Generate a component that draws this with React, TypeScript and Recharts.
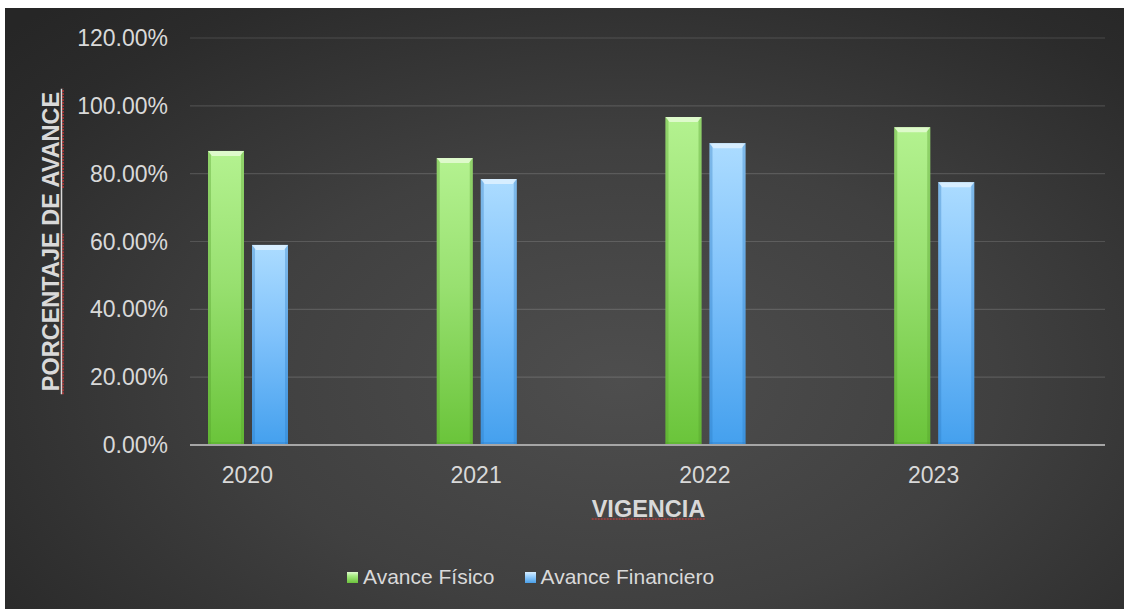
import React from 'react';
import { BarChart, Bar, XAxis, YAxis, CartesianGrid, Legend } from 'recharts';

const years = ['2020', '2021', '2022', '2023'];
const avanceFisico = [86.7, 84.6, 96.7, 93.7];
const avanceFinanciero = [59.0, 78.4, 89.0, 77.5];
const spacerValues = [0, 0, 0, 0];
const yTicks = [0, 20, 40, 60, 80, 100, 120];
const seriesOrder = ['fisico', 'financiero'];
const seriesNames = { fisico: 'Avance Físico', financiero: 'Avance Financiero' };

const data = years.map((year, i) => ({
  year,
  fisico: avanceFisico[i],
  financiero: avanceFinanciero[i],
  spacer: spacerValues[i],
}));

const TEXT = '#d9d9d9';
const FONT = '"Liberation Sans", Arial, Helvetica, sans-serif';

const GlossBar = (props: any) => {
  const { x, y, width, height, fill, light, dark } = props;
  if (!height || height <= 0) return null;
  const b = Math.min(5, height / 2);
  return (
    <g>
      <rect x={x} y={y} width={width} height={height} fill={fill} />
      <rect x={x} y={y} width={3} height={height} fill={dark} opacity={0.35} />
      <rect x={x + width - 3} y={y} width={3} height={height} fill={dark} opacity={0.35} />
      <polygon
        points={`${x},${y} ${x + width},${y} ${x + width - 4},${y + b} ${x + 4},${y + b}`}
        fill={light}
        opacity={0.9}
      />
      <rect x={x} y={y + height - 3} width={width} height={3} fill={dark} opacity={0.3} />
    </g>
  );
};

const GreenBar = (p: any) => <GlossBar {...p} light="#e2fbd2" dark="#4f9a28" />;
const BlueBar = (p: any) => <GlossBar {...p} light="#dcf0ff" dark="#2a78c0" />;

const YearTick = (props: any) => {
  const { x, y, payload } = props;
  return (
    <text x={x - 57} y={y} dy="0.71em" textAnchor="middle" fill={TEXT} fontSize={23} fontFamily={FONT}>
      {payload.value}
    </text>
  );
};

const YTitle = (props: any) => {
  const vb = props.viewBox || { x: 70, y: 38, width: 120, height: 407 };
  const cx = vb.x - 11;
  const cy = vb.y + vb.height / 2;
  const fs = 23.5;
  const total = 13.0 * fs;
  const start = cy + total / 2;
  const end = cy - total / 2;
  const w1 = 6.834 * fs;
  const w3 = 4.222 * fs;
  return (
    <g>
      <text
        x={cx}
        y={cy}
        transform={`rotate(-90, ${cx}, ${cy})`}
        textAnchor="middle"
        fill={TEXT}
        fontSize={fs}
        fontWeight="bold"
        fontFamily={FONT}
      >
        PORCENTAJE DE AVANCE
      </text>
      <line x1={cx + 2.5} y1={start} x2={cx + 2.5} y2={end} stroke={TEXT} strokeWidth={1.5} />
      <line x1={cx + 4} y1={start} x2={cx + 4} y2={start - w1} stroke="#e03a3a" strokeWidth={1.2} strokeDasharray="2 1" />
      <line x1={cx + 4} y1={end + w3} x2={cx + 4} y2={end} stroke="#e03a3a" strokeWidth={1.2} strokeDasharray="2 1" />
    </g>
  );
};

const XTitle = (props: any) => {
  const vb = props.viewBox || { x: 190, y: 445, width: 915, height: 60 };
  const cx = vb.x + vb.width / 2 + 1;
  const by = vb.y + 72;
  const fs = 23.5;
  const w = 4.834 * fs;
  return (
    <g>
      <text x={cx} y={by} textAnchor="middle" fill={TEXT} fontSize={fs} fontWeight="bold" fontFamily={FONT}>
        VIGENCIA
      </text>
      <line x1={cx - w / 2} y1={by + 2} x2={cx + w / 2} y2={by + 2} stroke="#e03a3a" strokeWidth={1.2} strokeDasharray="2 1" />
    </g>
  );
};

const iconBg: Record<string, string> = {
  fisico: 'linear-gradient(#dff9cf 0%, #a6ec82 35%, #6cc23c 100%)',
  financiero: 'linear-gradient(#d8eeff 0%, #9fd3ff 35%, #4a9fe8 100%)',
};

const LegendContent = (props: any) => {
  const items = (props.payload || [])
    .filter((e: any) => e.type !== 'none' && iconBg[e.dataKey])
    .sort((a: any, b: any) => seriesOrder.indexOf(a.dataKey) - seriesOrder.indexOf(b.dataKey));
  return (
    <div style={{ display: 'flex', alignItems: 'center', whiteSpace: 'nowrap' }}>
      {items.map((e: any, i: number) => (
        <div key={i} style={{ display: 'flex', alignItems: 'center', marginRight: 30 }}>
          <span
            style={{
              display: 'inline-block',
              width: 11,
              height: 11,
              background: iconBg[e.dataKey],
              marginRight: 5,
            }}
          />
          <span style={{ color: TEXT, fontSize: 21, fontFamily: FONT, lineHeight: '26px' }}>{e.value}</span>
        </div>
      ))}
    </div>
  );
};

export default function App() {
  return (
    <div style={{ position: 'relative', width: 1124, height: 609, background: '#ffffff', fontFamily: FONT, overflow: 'hidden' }}>
      <style>{'body{margin:0;}'}</style>
      <div
        style={{
          position: 'absolute',
          left: 5,
          top: 8,
          right: 0,
          bottom: 0,
          background: 'radial-gradient(ellipse 75% 85% at 55% 62%, #4e4e4e 0%, #404040 45%, #2b2b2b 85%, #262626 100%)',
        }}
      />
      <div style={{ position: 'absolute', left: 0, top: 0 }}>
        <BarChart
          width={1124}
          height={609}
          data={data}
          margin={{ top: 38, right: 19, bottom: 104, left: 70 }}
          barGap={8}
        >
          <defs>
            <linearGradient id="gGreen" x1="0" y1="0" x2="0" y2="1">
              <stop offset="0%" stopColor="#b4f290" />
              <stop offset="45%" stopColor="#98e070" />
              <stop offset="100%" stopColor="#6ac43a" />
            </linearGradient>
            <linearGradient id="gBlue" x1="0" y1="0" x2="0" y2="1">
              <stop offset="0%" stopColor="#acdcff" />
              <stop offset="45%" stopColor="#80c2fb" />
              <stop offset="100%" stopColor="#44a0ee" />
            </linearGradient>
          </defs>
          <CartesianGrid vertical={false} stroke="#ffffff" strokeOpacity={0.14} strokeWidth={1.2} />
          <XAxis
            dataKey="year"
            axisLine={{ stroke: '#a6a6a6', strokeWidth: 2 }}
            tickLine={false}
            tickSize={0}
            tickMargin={22}
            height={60}
            tick={<YearTick />}
            interval={0}
            label={<XTitle />}
          />
          <YAxis
            domain={[0, 120]}
            ticks={yTicks}
            axisLine={false}
            tickLine={false}
            tickSize={0}
            tickMargin={22}
            width={120}
            tickFormatter={(v: number) => `${v.toFixed(2)}%`}
            tick={{ fill: TEXT, fontSize: 23, fontFamily: FONT }}
            label={<YTitle />}
          />
          <Legend
            layout="horizontal"
            verticalAlign="middle"
            align="center"
            content={<LegendContent />}
            wrapperStyle={{ left: 347, top: 564, width: 500, height: 26 }}
          />
          <Bar
            dataKey="fisico"
            name={seriesNames.fisico}
            fill="url(#gGreen)"
            barSize={36}
            shape={<GreenBar />}
            isAnimationActive={false}
          />
          <Bar
            dataKey="financiero"
            name={seriesNames.financiero}
            fill="url(#gBlue)"
            barSize={36}
            shape={<BlueBar />}
            isAnimationActive={false}
          />
          <Bar
            dataKey="spacer"
            fill="none"
            barSize={105}
            legendType="none"
            isAnimationActive={false}
          />
        </BarChart>
      </div>
    </div>
  );
}
